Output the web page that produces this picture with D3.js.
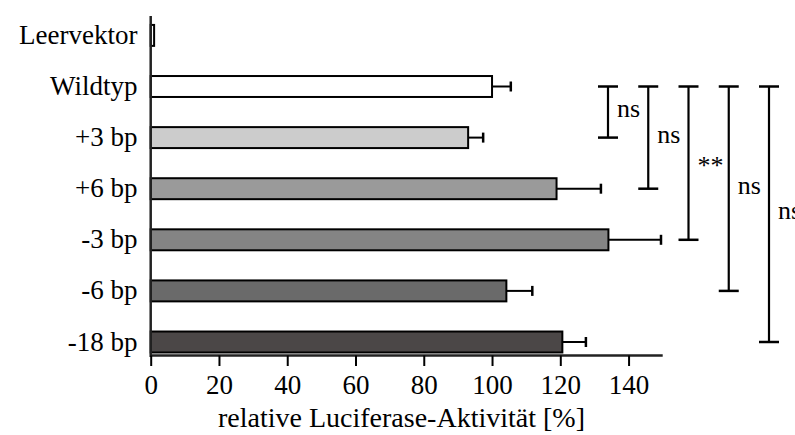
<!DOCTYPE html>
<html>
<head>
<meta charset="utf-8">
<script src="https://cdn.jsdelivr.net/npm/d3@7"></script>
<style>
  html, body { margin: 0; padding: 0; background: #fff; }
  svg { display: block; }
</style>
</head>
<body>
<svg id="chart" width="795" height="435"></svg>
<script>
// Luciferase reporter constructs, mean activity relative to wild type (%) and SEM
const categories = ["Leervektor", "Wildtyp", "+3 bp", "+6 bp", "-3 bp", "-6 bp", "-18 bp"];
const activity   = [1, 100, 93, 118.9, 134.1, 104.2, 120.6];
const sem        = [0.3, 5.5, 4.4, 13, 15.4, 7.6, 6.9];
const fills      = ["#ffffff", "#ffffff", "#cccccc", "#9a9a9a", "#848484", "#6a6a6a", "#4b4747"];
const xTicks     = [0, 20, 40, 60, 80, 100, 120, 140];

// Statistical comparisons against the wild type
const compFrom  = ["Wildtyp", "Wildtyp", "Wildtyp", "Wildtyp", "Wildtyp"];
const compTo    = ["+3 bp", "+6 bp", "-3 bp", "-6 bp", "-18 bp"];
const compLabel = ["ns", "ns", "**", "ns", "ns"];

const SERIF = "'Liberation Serif', 'Times New Roman', Times, 'DejaVu Serif', serif";

const svg = d3.select("#chart");

const x = d3.scaleLinear().domain([0, 150]).range([150.7, 662.7]);
const y = d3.scaleBand().domain(categories).range([9.85, 367.55])
  .paddingInner(0.59).paddingOuter(0.295);
const yc = c => y(c) + y.bandwidth() / 2;

// bars
svg.append("g").selectAll("rect")
  .data(categories)
  .join("rect")
  .attr("x", x(0))
  .attr("y", d => y(d))
  .attr("width", (d, i) => x(activity[i]) - x(0))
  .attr("height", y.bandwidth())
  .attr("fill", (d, i) => fills[i])
  .attr("stroke", "#000")
  .attr("stroke-width", 2);

// error bars (upper side only)
const eb = svg.append("g").attr("stroke", "#000");
categories.forEach((c, i) => {
  if (i === 0) return;
  const x0 = x(activity[i]), x1 = x(activity[i] + sem[i]), cy = yc(c);
  eb.append("line").attr("x1", x0).attr("x2", x1).attr("y1", cy).attr("y2", cy).attr("stroke-width", 2);
  eb.append("line").attr("x1", x1).attr("x2", x1).attr("y1", cy - 5).attr("y2", cy + 5).attr("stroke-width", 2.5);
});

// y axis line
svg.append("line")
  .attr("x1", x(0)).attr("x2", x(0))
  .attr("y1", 16).attr("y2", 357)
  .attr("stroke", "#222").attr("stroke-width", 2.5);

// category labels
svg.append("g").selectAll("text")
  .data(categories)
  .join("text")
  .attr("x", 137.5)
  .attr("y", d => yc(d) + 8.5)
  .attr("text-anchor", "end")
  .style("font-family", SERIF)
  .style("font-size", "27px")
  .attr("fill", "#000")
  .text(d => d);

// x axis
const xAxis = d3.axisBottom(x).tickValues(xTicks).tickSize(10.5).tickSizeOuter(0).tickPadding(9);
const gx = svg.append("g").attr("transform", "translate(0,355.5)").call(xAxis);
gx.attr("font-family", null).attr("font-size", null);
gx.select(".domain").attr("stroke", "#222").attr("stroke-width", 2.5)
  .attr("d", `M${x(0)},0H${x(150)}`);
gx.selectAll(".tick line").attr("stroke", "#000").attr("stroke-width", 2);
gx.selectAll(".tick text")
  .style("font-family", SERIF)
  .style("font-size", "27px")
  .attr("fill", "#000");

// axis title
svg.append("text")
  .attr("x", 401.5).attr("y", 427)
  .attr("text-anchor", "middle")
  .style("font-family", SERIF)
  .style("font-size", "28px")
  .attr("fill", "#000")
  .text("relative Luciferase-Aktivität [%]");

// significance brackets
const bx = d3.scaleLinear().domain([0, 4]).range([608, 769]);
const br = svg.append("g");
compTo.forEach((to, i) => {
  const cx = bx(i), y1 = yc(compFrom[i]), y2 = yc(to), mid = (y1 + y2) / 2;
  const g = br.append("g").attr("stroke", "#000");
  g.append("line").attr("x1", cx).attr("x2", cx).attr("y1", y1).attr("y2", y2).attr("stroke-width", 2.2);
  g.append("line").attr("x1", cx - 10).attr("x2", cx + 10).attr("y1", y1).attr("y2", y1).attr("stroke-width", 2.5);
  g.append("line").attr("x1", cx - 10).attr("x2", cx + 10).attr("y1", y2).attr("y2", y2).attr("stroke-width", 2.5);
  br.append("text")
    .attr("x", cx + 9)
    .attr("y", compLabel[i] === "**" ? mid + 11 : mid + 5)
    .style("font-family", SERIF)
    .style("font-size", "26px")
    .attr("fill", "#000")
    .text(compLabel[i]);
});
</script>
</body>
</html>
